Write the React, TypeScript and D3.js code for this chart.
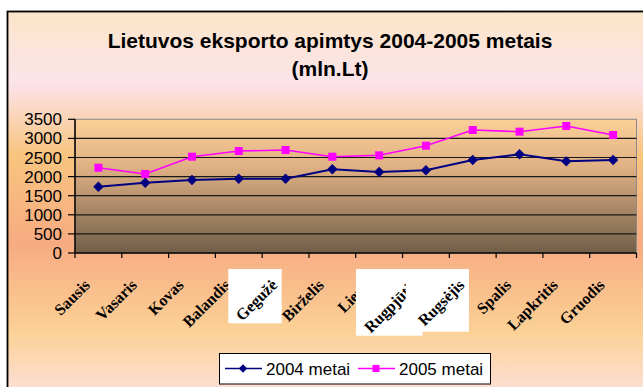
import React from "react";
import * as d3 from "d3";

const months = ["Sausis","Vasaris","Kovas","Balandis","Gegužė","Birželis","Liepa","Rugpjūtis","Rugsėjis","Spalis","Lapkritis","Gruodis"];
const values2004 = [1735, 1840, 1911, 1945, 1945, 2191, 2120, 2165, 2435, 2584, 2400, 2435];
const values2005 = [2233, 2068, 2521, 2670, 2696, 2521, 2557, 2809, 3220, 3176, 3325, 3089];
const yTicks = [0, 500, 1000, 1500, 2000, 2500, 3000, 3500];
const seriesNames = ["2004 metai", "2005 metai"];
const whiteBoxLabels = ["Gegužė", "Rugpjūtis", "Rugsėjis"];

const W = 643, H = 387;
const plot = { left: 75, right: 636.5, top: 119.3, bottom: 253 };

export default function App() {
  const x = d3.scaleBand<string>().domain(months).range([plot.left, plot.right]).padding(0);
  const y = d3.scaleLinear().domain([0, 3500]).range([plot.bottom, plot.top]);
  const cx = (m: string) => (x(m) as number) + x.bandwidth() / 2;
  const line = d3.line<number>().x((_, i) => cx(months[i])).y((v) => y(v));
  const diamond = d3.symbol().type(d3.symbolSquare).size(40)();
  const square = d3.symbol().type(d3.symbolSquare).size(64)();
  const legendDiamond = d3.symbol().type(d3.symbolSquare).size(36)();
  const legendSquare = d3.symbol().type(d3.symbolSquare).size(50)();
  const bounds = [...months.map((m) => x(m) as number), plot.right];

  const boxFor = (m: string) => {
    const c = cx(m);
    const top = plot.bottom + 16;
    if (m === "Gegužė") return { x: c - 57.3, y: top, w: 53.4, h: 54.3 };
    if (m === "Rugpjūtis") return { x: c - 70, y: top, w: 66.7, h: 66.7 };
    if (m === "Rugsėjis") return { x: c - 67, y: top, w: 63.2, h: 62.7 };
    return null;
  };

  return (
    <svg width={W} height={H} style={{ position: "absolute", left: 0, top: 0 }}>
      <defs>
        <linearGradient id="bg" x1="0" y1="0" x2="0" y2="1" gradientUnits="objectBoundingBox">
          <stop offset="0" stopColor="#fbe6c8" />
          <stop offset="0.18" stopColor="#fce3ea" />
          <stop offset="0.36" stopColor="#f8c47e" />
          <stop offset="0.58" stopColor="#f7ab82" />
          <stop offset="0.8" stopColor="#fbd196" />
          <stop offset="1" stopColor="#fde4ec" />
        </linearGradient>
        <linearGradient id="pa" x1="0" y1="0" x2="0" y2="1">
          <stop offset="0" stopColor="#fccf98" />
          <stop offset="0.35" stopColor="#e0b184" />
          <stop offset="1" stopColor="#715e48" />
        </linearGradient>
      </defs>
      <rect x={7.5} y={11.5} width={700} height={400} fill="url(#bg)" stroke="#000" strokeWidth={1.8} />
      <text x={330} y={48} textAnchor="middle" fontFamily="Liberation Sans, Arial" fontWeight="bold" fontSize={21} fill="#000">
        Lietuvos eksporto apimtys 2004-2005 metais
      </text>
      <text x={330} y={76} textAnchor="middle" fontFamily="Liberation Sans, Arial" fontWeight="bold" fontSize={21} fill="#000">
        (mln.Lt)
      </text>
      <rect x={plot.left} y={plot.top} width={plot.right - plot.left} height={plot.bottom - plot.top} fill="url(#pa)" stroke="#8a8a8a" strokeWidth={1} />
      {yTicks.map((t) => (
        <g key={t}>
          {t > 0 && t < 3500 && (
            <line x1={plot.left} x2={plot.right} y1={y(t)} y2={y(t)} stroke="#1a1a1a" strokeWidth={1.2} />
          )}
          <line x1={plot.left - 7} x2={plot.left} y1={y(t)} y2={y(t)} stroke="#000" strokeWidth={1.2} />
          <text x={62} y={y(t) + 6} textAnchor="end" fontFamily="Liberation Sans, Arial" fontSize={17} fill="#000">{t}</text>
        </g>
      ))}
      <line x1={plot.left} x2={plot.left} y1={plot.top} y2={plot.bottom} stroke="#000" strokeWidth={1.5} />
      <line x1={plot.left} x2={plot.right} y1={plot.bottom} y2={plot.bottom} stroke="#000" strokeWidth={1.5} />
      {bounds.map((b, i) => (
        <line key={i} x1={b} x2={b} y1={plot.bottom} y2={plot.bottom + 5} stroke="#000" strokeWidth={1.2} />
      ))}
      <path d={line(values2005) as string} fill="none" stroke="#ff00ff" strokeWidth={1.6} />
      <path d={line(values2004) as string} fill="none" stroke="#000080" strokeWidth={2} />
      {values2005.map((v, i) => (
        <path key={"s" + i} d={square as string} transform={`translate(${cx(months[i])},${y(v)})`} fill="#ff00ff" />
      ))}
      {values2004.map((v, i) => (
        <path key={"d" + i} d={diamond as string} transform={`translate(${cx(months[i])},${y(v)}) rotate(45)`} fill="#000080" stroke="#000080" strokeWidth={1} />
      ))}
      {months.map((m) => {
        const px = cx(m) - 7.4;
        const py = plot.bottom + 33;
        const b = whiteBoxLabels.includes(m) ? boxFor(m) : null;
        return (
          <g key={m}>
            {b && <rect x={b.x} y={b.y} width={b.w} height={b.h} fill="#fff" />}
            <text
              transform={`translate(${px},${py}) rotate(-45)`}
              textAnchor="end"
              fontFamily="Liberation Serif, Times New Roman"
              fontWeight="bold"
              fontSize={16}
              fill="#000"
            >
              {m}
            </text>
          </g>
        );
      })}
      <g>
        <rect x={219.5} y={353.5} width={271} height={30.5} fill="#fff" stroke="#000" strokeWidth={1} />
        <line x1={225} x2={262} y1={368.5} y2={368.5} stroke="#000080" strokeWidth={1.5} />
        <path d={legendDiamond as string} transform="translate(243,368.5) rotate(45)" fill="#000080" />
        <text x={266} y={374.5} fontFamily="Liberation Sans, Arial" fontSize={17} fill="#000">{seriesNames[0]}</text>
        <line x1={358} x2={395} y1={368.5} y2={368.5} stroke="#ff00ff" strokeWidth={1.5} />
        <path d={legendSquare as string} transform="translate(376,368.5)" fill="#ff00ff" />
        <text x={399} y={374.5} fontFamily="Liberation Sans, Arial" fontSize={17} fill="#000">{seriesNames[1]}</text>
      </g>
    </svg>
  );
}
